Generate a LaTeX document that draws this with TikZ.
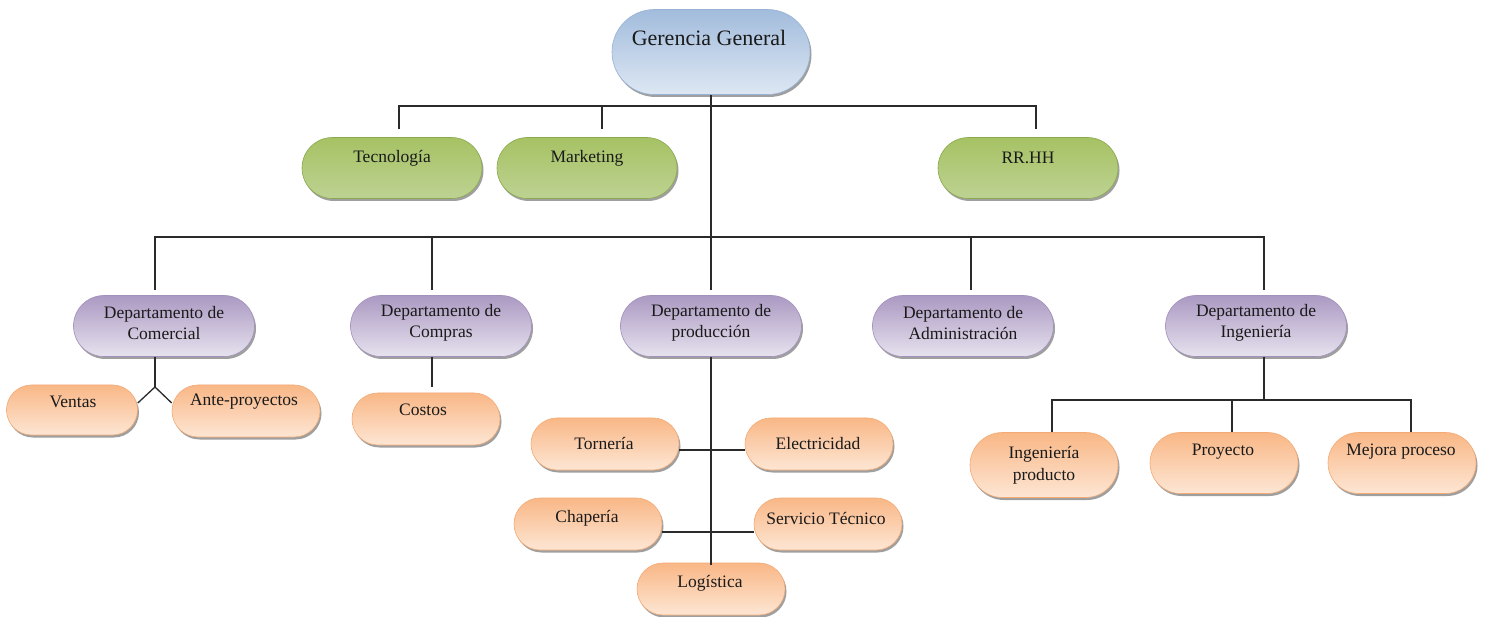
\documentclass[tikz,border=0pt]{standalone}
\usepackage{fontspec}
\setmainfont{Liberation Serif}
\usetikzlibrary{shapes.misc,shadows,calc}
\definecolor{lineC}{HTML}{2A2A2A}
\definecolor{txtC}{HTML}{1A1A1A}
\definecolor{bTop}{HTML}{A2BCDC}
\definecolor{bBot}{HTML}{DDE7F3}
\definecolor{bDraw}{HTML}{96B3D6}
\definecolor{gTop}{HTML}{A6C264}
\definecolor{gMid}{HTML}{9BBB59}
\definecolor{gBot}{HTML}{BDD292}
\definecolor{gDraw}{HTML}{89AA4C}
\definecolor{pTop}{HTML}{AA99C2}
\definecolor{pBot}{HTML}{E7E2EE}
\definecolor{pDraw}{HTML}{A291BB}
\definecolor{oTop}{HTML}{F9B786}
\definecolor{oBot}{HTML}{FDE6D4}
\definecolor{oDraw}{HTML}{F3AB75}
\tikzset{
  pill/.style={rounded rectangle, line width=0.6pt, inner sep=0pt,
    drop shadow={shadow xshift=1.5pt, shadow yshift=-2.5pt, opacity=0.5, fill=black!75}},
  blueN/.style={pill, draw=bDraw, top color=bTop, bottom color=bBot,
    minimum width=198pt, minimum height=85pt},
  greenN/.style={pill, draw=gDraw, top color=gTop, middle color=gMid, bottom color=gBot,
    minimum width=180pt, minimum height=61pt},
  purpN/.style={pill, draw=pDraw, top color=pTop, bottom color=pBot,
    minimum width=181pt, minimum height=61pt},
  oraN/.style={pill, draw=oDraw, top color=oTop, bottom color=oBot,
    minimum width=148pt, minimum height=52pt},
  txt/.style={text=txtC, align=center, inner sep=0pt},
  bigT/.style={txt, font=\fontsize{22}{26}\selectfont},
  midT/.style={txt, font=\fontsize{17.5}{21}\selectfont},
  smT/.style={txt, font=\fontsize{17.5}{22}\selectfont},
  conn/.style={draw=lineC, line width=1.3pt},
}
\begin{document}
\begin{tikzpicture}[x=1pt,y=-1pt]
\useasboundingbox (0,0) rectangle (1486,617);
\fill[white] (0,0) rectangle (1486,617);

% top
\node[blueN] (G) at (711,52) {};
\node[bigT] at (709,38) {Gerencia General};

\node[greenN] (tec) at (392,168) {};
\node[midT] at (392,158) {Tecnología};
\node[greenN] (mkt) at (587,168) {};
\node[midT] at (587,158) {Marketing};
\node[greenN] (rrhh) at (1028,168) {};
\node[midT] at (1028,158) {RR.HH};

% departments
\node[purpN] (com) at (164,326) {};
\node[midT] at (164,323) {Departamento de\\Comercial};
\node[purpN] (comp) at (441,326) {};
\node[midT] at (441,323) {Departamento de\\Compras};
\node[purpN] (prod) at (711,326) {};
\node[midT] at (711,323) {Departamento de\\producción};
\node[purpN] (adm) at (963,326) {};
\node[midT] at (963,323) {Departamento de\\Administración};
\node[purpN] (ing) at (1256,326) {};
\node[midT] at (1256,323) {Departamento de\\Ingeniería};

% comercial children
\node[oraN, minimum width=131pt, minimum height=50pt] (ven) at (72,410) {};
\node[smT] at (73,402) {Ventas};
\node[oraN] (ante) at (246,411) {};
\node[smT] at (244,402) {Ante-proyectos};

% compras child
\node[oraN] (cos) at (426,419) {};
\node[smT] at (423,410) {Costos};

% produccion children
\node[oraN] (tor) at (605,444) {};
\node[smT] at (604,444) {Tornería};
\node[oraN] (ele) at (819,444) {};
\node[smT] at (818,444) {Electricidad};
\node[oraN] (cha) at (588,524) {};
\node[smT] at (587,518) {Chapería};
\node[oraN] (ser) at (828,524) {};
\node[smT] at (826,518) {Servicio Técnico};
\node[oraN] (log) at (711,589) {};
\node[smT] at (710,583) {Logística};

% ingenieria children
\node[oraN, minimum height=65pt] (ingp) at (1044,465) {};
\node[smT] at (1044,465) {Ingeniería\\producto};
\node[oraN, minimum height=61pt] (proy) at (1224,463) {};
\node[smT] at (1223,452) {Proyecto};
\node[oraN, minimum height=61pt] (mej) at (1402,463) {};
\node[smT] at (1401,452) {Mejora proceso};

% connectors
\coordinate (bus1) at (711,106);
\coordinate (bus2) at (711,237);
\coordinate (cv) at (155,387);
\coordinate (ib) at (1264,400);

\draw[conn] (G.south) -- ([yshift=5pt]prod.north);
\draw[conn] ([xshift=7pt,yshift=8pt]tec.north) |- (bus1);
\draw[conn] ([xshift=15pt,yshift=8pt]mkt.north) |- (bus1);
\draw[conn] ([xshift=8pt,yshift=8pt]rrhh.north) |- (bus1);

\draw[conn] ([xshift=-9pt,yshift=5pt]com.north) |- (bus2);
\draw[conn] ([xshift=-9pt,yshift=5pt]comp.north) |- (bus2);
\draw[conn] ([xshift=8pt,yshift=5pt]adm.north) |- (bus2);
\draw[conn] ([xshift=8pt,yshift=5pt]ing.north) |- (bus2);

\draw[conn] ([xshift=-9pt]com.south) -- (cv);
\draw[conn] ([yshift=7pt]ven.east) -- (cv) -- ([yshift=8pt]ante.west);

\draw[conn] ([xshift=-9pt]comp.south) -- ([xshift=6pt,yshift=6pt]cos.north);

\draw[conn] (prod.south) -- ([yshift=-2pt]log.north);
\draw[conn] ([yshift=-6pt]tor.east) -- ([yshift=-6pt]ele.west);
\draw[conn] ([yshift=-8pt]cha.east) -- ([yshift=-8pt]ser.west);

\draw[conn] ([xshift=8pt]ing.south) -- (ib);
\draw[conn] ([xshift=8pt]ingp.north) |- (ib);
\draw[conn] ([xshift=8pt]proy.north) |- (ib);
\draw[conn] ([xshift=9pt]mej.north) |- (ib);
\end{tikzpicture}
\end{document}
